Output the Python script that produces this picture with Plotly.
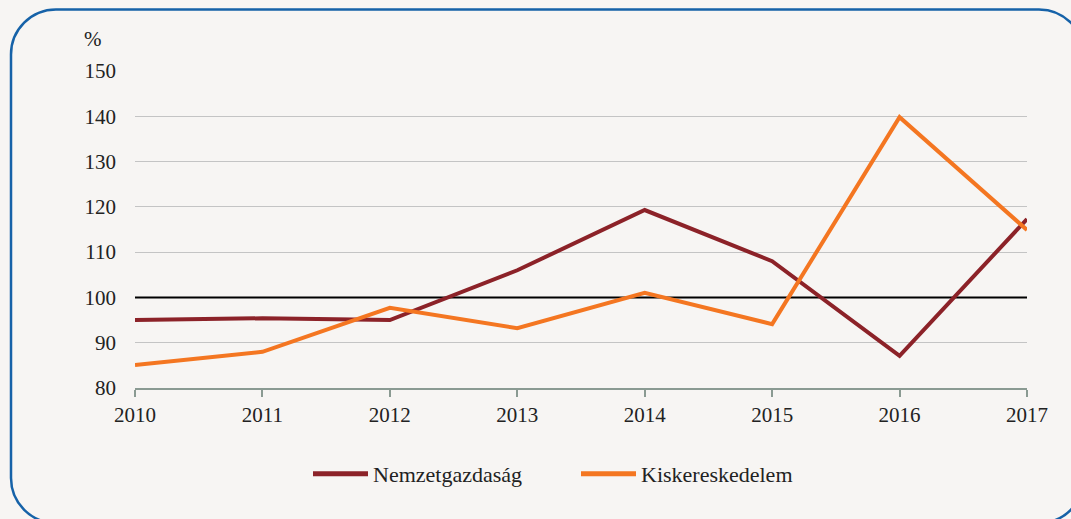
import plotly.graph_objects as go

years = [2010, 2011, 2012, 2013, 2014, 2015, 2016, 2017]
nemzetgazdasag = [95.0, 95.4, 95.0, 106.0, 119.3, 108.0, 87.1, 117.3]
kiskereskedelem = [85.1, 88.0, 97.7, 93.2, 101.0, 94.1, 139.8, 114.9]
ref_x = [2010, 2017]
ref_y = [100, 100]
y_ticks = [80, 90, 100, 110, 120, 130, 140, 150]

W, H = 1071, 519
ML, MR, MT, MB = 135, 44, 71, 131
PW, PH = W - ML - MR, H - MT - MB

def px(x):
    return (x - ML) / PW

def py(y):
    return (H - MB - y) / PH

FONT = "Liberation Serif"
BG = "#f7f5f3"

fig = go.Figure()
fig.add_trace(go.Scatter(x=ref_x, y=ref_y, mode="lines", showlegend=False, hoverinfo="skip",
                         line=dict(color="#000000", width=2)))
fig.add_trace(go.Scatter(x=years, y=nemzetgazdasag, mode="lines", name="Nemzetgazdaság",
                         line=dict(color="#8c2228", width=4)))
fig.add_trace(go.Scatter(x=years, y=kiskereskedelem, mode="lines", name="Kiskereskedelem",
                         line=dict(color="#f47621", width=4)))

# rounded border
x0, y0, x1, y1, r = 11, 9.5, 1084, 523, 45
k = 0.552 * r
def P(x, y):
    return f"{px(x):.5f},{py(y):.5f}"
path = (f"M {P(x0 + r, y0)} L {P(x1 - r, y0)} C {P(x1 - r + k, y0)} {P(x1, y0 + r - k)} {P(x1, y0 + r)} "
        f"L {P(x1, y1 - r)} C {P(x1, y1 - r + k)} {P(x1 - r + k, y1)} {P(x1 - r, y1)} "
        f"L {P(x0 + r, y1)} C {P(x0 + r - k, y1)} {P(x0, y1 - r + k)} {P(x0, y1 - r)} "
        f"L {P(x0, y0 + r)} C {P(x0, y0 + r - k)} {P(x0 + r - k, y0)} {P(x0 + r, y0)} Z")
fig.add_shape(type="path", path=path, xref="paper", yref="paper",
              line=dict(color="#1662a8", width=2.5), layer="below")

fig.add_annotation(text="%", xref="paper", yref="paper", x=px(93), y=py(39),
                   xanchor="center", yanchor="middle",
                   showarrow=False, font=dict(family=FONT, size=21, color="#222222"))

fig.update_layout(
    width=W, height=H,
    margin=dict(l=ML, r=MR, t=MT, b=MB),
    paper_bgcolor=BG, plot_bgcolor=BG,
    font=dict(family=FONT, size=21, color="#222222"),
    showlegend=True,
    legend=dict(orientation="h", x=px(308), xanchor="left", y=py(474), yanchor="middle",
                font=dict(family=FONT, size=22, color="#222222"), itemwidth=55,
                entrywidth=198, entrywidthmode="pixels",
                bgcolor="rgba(0,0,0,0)", itemsizing="constant"),
    xaxis=dict(range=[2010, 2017], tickvals=years, ticktext=[str(y) for y in years],
               showgrid=False, zeroline=False, showline=True, linecolor="#8a9a92", linewidth=1.5,
               ticks="outside", ticklen=7, tickcolor="#8a9a92", tickwidth=1.5,
               tickfont=dict(family=FONT, size=21, color="#222222")),
    yaxis=dict(range=[80, 150], tickvals=y_ticks, showgrid=True, gridcolor="#c4c4c4", gridwidth=1,
               zeroline=False, showline=False, ticks="", ticklabelstandoff=18,
               tickfont=dict(family=FONT, size=21, color="#222222")),
)

fig.write_html("out.html", config={"displayModeBar": False},
               post_script="document.body.style.margin='0';document.body.style.background='%s';" % BG)
